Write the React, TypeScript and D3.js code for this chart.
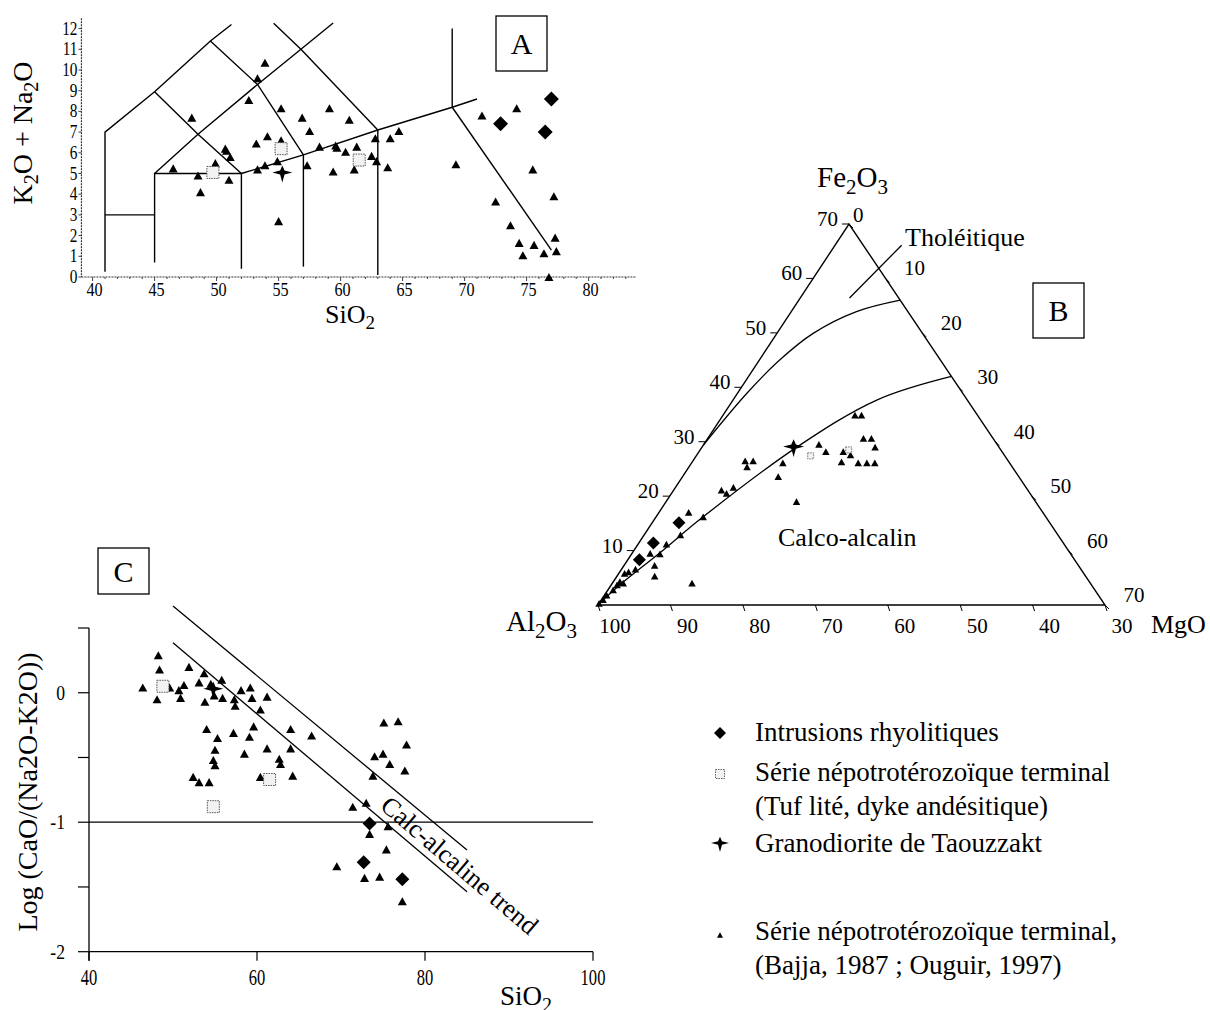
import React from "react";
import * as d3 from "d3";

const FONT = '"Liberation Serif","Times New Roman",serif';

// ---------------- Panel A (TAS) data ----------------
const aTickX = [40, 45, 50, 55, 60, 65, 70, 75, 80];
const aTickY = [0, 1, 2, 3, 4, 5, 6, 7, 8, 9, 10, 11, 12];
const aAxisX: [number, number] = [39.1, 83.8];
const aAxisY: [number, number] = [0, 12.5];
const tasBoundaries: [number, number][][] = [
  [[41, 0.25], [41, 7], [45, 8.95], [49.5, 11.4], [51.2, 12.2]],
  [[41, 3], [45, 3]],
  [[45, 0.7], [45, 5], [52, 5], [52, 0.4]],
  [[45, 5], [48.5, 6.9], [53.3, 9.3], [56.8, 11.0], [59.4, 12.27]],
  [[45, 8.95], [48.5, 6.9], [52, 5]],
  [[49.5, 11.4], [53.3, 9.3], [57, 5.9]],
  [[54.6, 12.26], [56.8, 11.0], [63, 7.1]],
  [[52, 5], [57, 5.9], [63, 7.1], [69, 8.2], [71, 8.6]],
  [[57, 5.9], [57, 0.5]],
  [[63, 7.1], [63, 0.1]],
  [[69, 8.2], [69, 12.0]],
  [[69, 8.2], [77, 1.3]],
];
const aTriangles: [number, number][] = [
  [46.5, 5.25], [48.0, 7.7], [48.5, 4.9], [48.7, 4.1], [49.9, 5.5], [50.7, 6.2], [50.8, 6.1],
  [51.1, 5.8], [51.0, 4.7], [52.6, 8.55], [53.3, 9.6], [53.9, 10.35], [53.2, 6.45], [54.1, 6.8],
  [53.3, 5.2], [53.9, 5.4], [55.2, 8.15], [55.2, 6.6], [54.9, 5.6], [55.0, 2.7], [56.9, 7.7],
  [57.5, 7.05], [57.3, 5.4], [58.3, 6.3], [59.1, 8.15], [60.7, 7.6], [59.6, 6.35], [59.7, 6.25],
  [60.4, 6.05], [61.3, 6.3], [59.4, 5.1], [61.1, 5.2], [62.5, 5.85], [62.8, 6.7], [62.9, 5.6],
  [64.0, 6.7], [64.7, 7.05], [63.8, 5.3], [69.3, 5.45], [71.4, 7.8], [74.2, 8.15], [72.5, 3.65],
  [73.7, 2.5], [74.4, 1.65], [74.7, 1.05], [75.6, 1.55], [76.4, 1.15], [77.4, 1.25], [77.3, 1.9],
  [77.2, 3.9], [75.5, 5.2], [76.8, 0.0],
];
const aDiamonds: [number, number][] = [[77.0, 8.6], [72.9, 7.4], [76.5, 7.0]];
const aSquares: [number, number][] = [[49.7, 5.05], [55.2, 6.2], [61.5, 5.65]];
const aStars: [number, number][] = [[55.3, 5.05]];

// ---------------- Panel B (ternary Fe2O3 / MgO / Al2O3) data: [Fe2O3, MgO] ----------------
const bFeTicks = [10, 20, 30, 40, 50, 60, 70];
const bAlTicks = [100, 90, 80, 70, 60, 50, 40, 30];
const bMgTicks = [0, 10, 20, 30, 40, 50, 60, 70];
const bUpperCurve: [number, number][] = [[29.4, 0], [38.9, 1.3], [45.0, 2.8], [49.9, 5.0], [53.9, 9.0], [56.0, 14.0]];
const bLowerCurve: [number, number][] = [[0, 0], [3.7, 1.2], [9.6, 3.8], [16.2, 6.5], [29.0, 13.1], [37.7, 19.9], [42.0, 28.0]];
const bTholLine: [number, number][] = [[56.4, 6.8], [66.1, 9.2]];
const bTriangles: [number, number][] = [
  [0.3, 0.0], [1.0, 0.2], [1.8, 0.3], [2.8, 0.7], [3.7, 0.8], [4.3, 0.9], [4.0, 1.5], [5.8, 0.8],
  [6.1, 1.2], [6.6, 1.9], [9.5, 2.5], [7.3, 4.2], [5.3, 5.2], [9.4, 3.9], [11.2, 3.9], [12.9, 5.0],
  [17.0, 4.1], [16.2, 6.5], [4.0, 11.0], [21.1, 6.6], [20.5, 7.6], [21.6, 8.0], [26.5, 7.2],
  [25.4, 8.0], [26.5, 8.3], [23.6, 13.2], [26.1, 12.6], [19.0, 18.0], [29.5, 15.9], [28.2, 17.5],
  [26.3, 20.6], [28.2, 19.9], [27.6, 21.2], [34.9, 18.2], [34.9, 19.1], [26.1, 23.0], [26.1, 24.2],
  [26.1, 25.3], [30.6, 21.5], [30.6, 22.6], [29.0, 23.9],
];
const bDiamonds: [number, number][] = [[8.3, 1.6], [11.4, 2.0], [15.1, 3.7]];
const bSquares: [number, number][] = [[27.4, 15.8], [28.5, 20.5]];
const bStars: [number, number][] = [[29.1, 12.6]];

// ---------------- Panel C data ----------------
const cTickX = [40, 60, 80, 100];
const cTickY = [0.5, 0, -0.5, -1, -1.5, -2];
const cLabelY = [0, -1, -2];
const cUpperTrend: [number, number][] = [[50, 0.67], [85, -1.215]];
const cLowerTrend: [number, number][] = [[50, 0.386], [85, -1.537]];
const cTriangles: [number, number][] = [
  [46.4, 0.04], [48.25, 0.29], [48.4, 0.18], [48.1, -0.05], [49.6, 0.04], [50.7, 0.02], [50.9, -0.04],
  [51.3, 0.06], [51.9, 0.2], [53.1, 0.08], [53.7, 0.15], [53.8, -0.07], [54.5, 0.07], [54.9, -0.02],
  [55.8, 0.1], [55.9, -0.04], [57.3, -0.05], [57.4, -0.1], [58.1, 0.02], [59.2, 0.04], [59.4, -0.04],
  [60.4, -0.13], [61.2, -0.03], [54.0, -0.28], [55.3, -0.35], [55.0, -0.44], [54.8, -0.52],
  [55.0, -0.56], [52.4, -0.65], [53.1, -0.69], [54.3, -0.69], [57.2, -0.31], [59.6, -0.26],
  [59.1, -0.34], [58.5, -0.47], [61.2, -0.43], [60.4, -0.65], [62.65, -0.51], [62.8, -0.55],
  [64.0, -0.28], [64.0, -0.43], [64.25, -0.64], [66.5, -0.33], [75.1, -0.23], [76.8, -0.22],
  [77.8, -0.4], [74.0, -0.49], [75.0, -0.47], [75.8, -0.55], [77.6, -0.6], [73.8, -0.64],
  [71.4, -0.88], [73.0, -0.85], [73.4, -1.09], [75.6, -1.03], [75.4, -1.21], [69.5, -1.34],
  [72.8, -1.43], [74.6, -1.42], [77.3, -1.61],
];
const cDiamonds: [number, number][] = [[73.4, -1.01], [72.7, -1.31], [77.3, -1.44]];
const cSquares: [number, number][] = [[48.8, 0.05], [54.8, -0.88], [61.5, -0.67]];
const cStars: [number, number][] = [[54.8, 0.03]];

// ---------------- Legend ----------------
const legendItems = [
  { kind: "diamond", lines: ["Intrusions rhyolitiques"] },
  { kind: "square", lines: ["Série népotrotérozoïque terminal", "(Tuf lité, dyke andésitique)"] },
  { kind: "star", lines: ["Granodiorite de Taouzzakt"] },
  { kind: "triangle", lines: ["Série népotrotérozoïque terminal,", "(Bajja, 1987 ; Ouguir, 1997)"] },
];

// ---------------- scales ----------------
const xA = d3.scaleLinear().domain([40, 80]).range([92.6, 588.6]);
const yA = d3.scaleLinear().domain([0, 12]).range([277, 28.6]);

const bY = d3.scaleLinear().domain([0, 70]).range([605, 224]);
const bXfe = d3.scaleLinear().domain([0, 70]).range([0, 251]);
const bXmg = d3.scaleLinear().domain([0, 70]).range([598, 1105]);
const tern = (fe: number, mg: number): [number, number] => [bXmg(mg) + bXfe(fe), bY(fe)];

const xC = d3.scaleLinear().domain([40, 100]).range([89, 593]);
const yC = d3.scaleLinear().domain([-2, 0.5]).range([951.7, 628]);

// ---------------- markers ----------------
function Tri({ x, y, w }: { x: number; y: number; w: number }) {
  const h = w * 0.9;
  return <path d={`M${x},${y - h / 2}L${x + w / 2},${y + h / 2}L${x - w / 2},${y + h / 2}Z`} fill="#000" />;
}
function Diamond({ x, y, r }: { x: number; y: number; r: number }) {
  return <path d={`M${x},${y - r}L${x + r},${y}L${x},${y + r}L${x - r},${y}Z`} fill="#000" />;
}
function Square({ x, y, s, sw = 1 }: { x: number; y: number; s: number; sw?: number }) {
  return (
    <rect x={x - s / 2} y={y - s / 2} width={s} height={s} fill="#f2f2f2" stroke="#555" strokeWidth={sw} strokeDasharray="1.5 1" />
  );
}
function Star({ x, y, k }: { x: number; y: number; k: number }) {
  const p = [[0, -7], [2.2, -2], [10, 0], [2.2, 2], [0, 10], [-2.2, 2], [-10, 0], [-2.2, -2]];
  const d = "M" + p.map(([a, b]) => `${x + a * k},${y + b * k}`).join("L") + "Z";
  return <path d={d} fill="#000" />;
}

const lineGen = d3.line<[number, number]>();

export default function App() {
  const tasPath = d3.line<[number, number]>().x((d) => xA(d[0])).y((d) => yA(d[1]));
  const ternPath = d3
    .line<[number, number]>()
    .x((d) => tern(d[0], d[1])[0])
    .y((d) => tern(d[0], d[1])[1])
    .curve(d3.curveCatmullRom);
  const cPath = d3.line<[number, number]>().x((d) => xC(d[0])).y((d) => yC(d[1]));

  const A0 = tern(0, 0);
  const Ap = tern(70, 0);
  const Ar = tern(0, 70);

  const minorA = d3.range(40, 84, 1);

  return (
    <svg width={1210} height={1010} style={{ position: "absolute", left: 0, top: 0, background: "#fff" }} fontFamily={FONT}>
      <rect width={1210} height={1010} fill="#fff" />
      {/* ================= Panel A ================= */}
      <g>
        <line x1={xA(aAxisX[0])} x2={xA(aAxisX[1])} y1={yA(0)} y2={yA(0)} stroke="#333" strokeWidth={1.2} strokeDasharray="2 1" />
        <line x1={xA(aAxisX[0])} x2={xA(aAxisX[0])} y1={yA(aAxisY[1])} y2={yA(0)} stroke="#333" strokeWidth={1.2} strokeDasharray="2 1" />
        {minorA.map((v) => (
          <line key={"mx" + v} x1={xA(v)} x2={xA(v)} y1={yA(0)} y2={yA(0) + (v % 5 === 0 ? 4 : 2)} stroke="#444" strokeWidth={1} />
        ))}
        {aTickX.map((v) => (
          <text key={"tx" + v} transform={`translate(${xA(v) + 2},${yA(0) + 19}) scale(0.85,1)`} textAnchor="middle" fontSize={19}>
            {v}
          </text>
        ))}
        {aTickY.map((v) => (
          <g key={"ty" + v}>
            <line x1={xA(aAxisX[0]) - 3} x2={xA(aAxisX[0])} y1={yA(v)} y2={yA(v)} stroke="#444" />
            <text transform={`translate(${xA(aAxisX[0]) - 4},${yA(v) + 6}) scale(0.85,1)`} textAnchor="end" fontSize={18}>
              {v}
            </text>
          </g>
        ))}
        {tasBoundaries.map((seg, i) => (
          <path key={"tas" + i} d={tasPath(seg) || ""} fill="none" stroke="#000" strokeWidth={1.4} />
        ))}
        {aTriangles.map(([x, y], i) => (
          <Tri key={"at" + i} x={xA(x)} y={yA(y)} w={9} />
        ))}
        {aSquares.map(([x, y], i) => (
          <Square key={"as" + i} x={xA(x)} y={yA(y)} s={12} />
        ))}
        {aDiamonds.map(([x, y], i) => (
          <Diamond key={"ad" + i} x={xA(x)} y={yA(y)} r={7.5} />
        ))}
        {aStars.map(([x, y], i) => (
          <Star key={"ast" + i} x={xA(x)} y={yA(y)} k={1} />
        ))}
        <text transform="translate(32,133) rotate(-90)" textAnchor="middle" fontSize={28}>
          K<tspan fontSize={20} dy={6}>2</tspan>
          <tspan dy={-6}>O + Na</tspan>
          <tspan fontSize={20} dy={6}>2</tspan>
          <tspan dy={-6}>O</tspan>
        </text>
        <text x={325} y={323} fontSize={26}>
          SiO<tspan fontSize={19} dy={6}>2</tspan>
        </text>
        <rect x={496} y={16} width={51} height={55} fill="none" stroke="#000" strokeWidth={1.3} />
        <text x={521.5} y={54} textAnchor="middle" fontSize={30}>
          A
        </text>
      </g>

      {/* ================= Panel B ================= */}
      <g>
        <path d={lineGen([A0, Ap, Ar, A0]) || ""} fill="none" stroke="#000" strokeWidth={1.4} />
        {bFeTicks.map((v) => {
          const [x, y] = tern(v, 0);
          return (
            <g key={"bf" + v}>
              <line x1={x - 7} x2={x} y1={y} y2={y} stroke="#000" />
              <text x={x - 11} y={y + 2} textAnchor="end" fontSize={21}>
                {v}
              </text>
            </g>
          );
        })}
        {bAlTicks.map((v) => {
          const [x, y] = tern(0, 100 - v);
          return (
            <g key={"ba" + v}>
              <line x1={x} x2={x + 2} y1={y} y2={y + 6} stroke="#000" />
              <text x={x + 17} y={y + 28} textAnchor="middle" fontSize={21}>
                {v}
              </text>
            </g>
          );
        })}
        {bMgTicks.map((v) => {
          const [x, y] = tern(70 - v, v);
          return (
            <g key={"bm" + v}>
              <line x1={x} x2={x + 4} y1={y} y2={y + 4} stroke="#000" />
              {v === 0 ? (
                <text x={x + 4} y={y - 2} fontSize={21}>
                  {v}
                </text>
              ) : (
                <text x={x + 29} y={y - 3} textAnchor="middle" fontSize={21}>
                  {v}
                </text>
              )}
            </g>
          );
        })}
        <path d={ternPath(bUpperCurve) || ""} fill="none" stroke="#000" strokeWidth={1.3} />
        <path d={ternPath(bLowerCurve) || ""} fill="none" stroke="#000" strokeWidth={1.3} />
        <path d={lineGen(bTholLine.map((d) => tern(d[0], d[1]))) || ""} fill="none" stroke="#000" strokeWidth={1.3} />
        {bTriangles.map(([f, m], i) => {
          const [x, y] = tern(f, m);
          return <Tri key={"bt" + i} x={x} y={y} w={7.5} />;
        })}
        {bSquares.map(([f, m], i) => {
          const [x, y] = tern(f, m);
          return <Square key={"bs" + i} x={x} y={y} s={6} sw={0.8} />;
        })}
        {bDiamonds.map(([f, m], i) => {
          const [x, y] = tern(f, m);
          return <Diamond key={"bd" + i} x={x} y={y} r={6.5} />;
        })}
        {bStars.map(([f, m], i) => {
          const [x, y] = tern(f, m);
          return <Star key={"bst" + i} x={x} y={y} k={1.05} />;
        })}
        <text x={817} y={187} fontSize={29}>
          Fe<tspan fontSize={21} dy={7}>2</tspan>
          <tspan dy={-7}>O</tspan>
          <tspan fontSize={21} dy={7}>3</tspan>
        </text>
        <text x={506} y={631} fontSize={29}>
          Al<tspan fontSize={21} dy={7}>2</tspan>
          <tspan dy={-7}>O</tspan>
          <tspan fontSize={21} dy={7}>3</tspan>
        </text>
        <text x={1151} y={633} fontSize={26}>
          MgO
        </text>
        <text x={905} y={246} fontSize={26}>
          Tholéitique
        </text>
        <text x={778} y={546} fontSize={26}>
          Calco-alcalin
        </text>
        <rect x={1033} y={283} width={51} height={55} fill="none" stroke="#000" strokeWidth={1.3} />
        <text x={1058.5} y={321} textAnchor="middle" fontSize={30}>
          B
        </text>
      </g>

      {/* ================= Panel C ================= */}
      <g>
        <line x1={xC(40)} x2={xC(40)} y1={yC(0.5)} y2={yC(-2.07)} stroke="#000" strokeWidth={1.3} />
        <line x1={xC(40)} x2={xC(100)} y1={yC(-2)} y2={yC(-2)} stroke="#000" strokeWidth={1.3} />
        <line x1={xC(40)} x2={xC(100)} y1={yC(-1)} y2={yC(-1)} stroke="#000" strokeWidth={1.3} />
        {cTickY.map((v) => (
          <line key={"cyt" + v} x1={xC(40) - 11} x2={xC(40)} y1={yC(v)} y2={yC(v)} stroke="#000" strokeWidth={1.2} />
        ))}
        {cLabelY.map((v) => (
          <text key={"cyl" + v} transform={`translate(${xC(40) - 24},${yC(v) + 7}) scale(0.8,1)`} textAnchor="end" fontSize={22}>
            {v}
          </text>
        ))}
        {cTickX.map((v) => (
          <g key={"cxt" + v}>
            <line x1={xC(v)} x2={xC(v)} y1={yC(-2)} y2={yC(-2) + 9} stroke="#000" strokeWidth={1.2} />
            <text transform={`translate(${xC(v)},${yC(-2) + 33}) scale(0.72,1)`} textAnchor="middle" fontSize={23}>
              {v}
            </text>
          </g>
        ))}
        <path d={cPath(cUpperTrend) || ""} fill="none" stroke="#000" strokeWidth={1.3} />
        <path d={cPath(cLowerTrend) || ""} fill="none" stroke="#000" strokeWidth={1.3} />
        {cTriangles.map(([x, y], i) => (
          <Tri key={"ct" + i} x={xC(x)} y={yC(y)} w={9} />
        ))}
        {cSquares.map(([x, y], i) => (
          <Square key={"cs" + i} x={xC(x)} y={yC(y)} s={12} />
        ))}
        {cDiamonds.map(([x, y], i) => (
          <Diamond key={"cd" + i} x={xC(x)} y={yC(y)} r={7} />
        ))}
        {cStars.map(([x, y], i) => (
          <Star key={"cst" + i} x={xC(x)} y={yC(y)} k={1} />
        ))}
        <text transform="translate(379,808) rotate(40.5)" fontSize={26}>
          Calc-alcaline trend
        </text>
        <text transform="translate(37,792) rotate(-90)" textAnchor="middle" fontSize={28}>
          Log (CaO/(Na2O-K2O))
        </text>
        <text x={500} y={1005} fontSize={27}>
          SiO<tspan fontSize={20} dy={7}>2</tspan>
        </text>
        <rect x={98} y={548} width={51} height={46} fill="none" stroke="#000" strokeWidth={1.3} />
        <text x={123.5} y={582} textAnchor="middle" fontSize={30}>
          C
        </text>
      </g>

      {/* ================= Legend ================= */}
      <g>
        {legendItems.map((it, i) => {
          const baseY = [741, 781, 852, 940][i];
          const my = [733, 774, 843, 935][i];
          return (
            <g key={"lg" + i}>
              {it.kind === "diamond" && <Diamond x={720} y={my} r={6} />}
              {it.kind === "square" && <Square x={720} y={my} s={9} sw={0.9} />}
              {it.kind === "star" && <Star x={720} y={my} k={0.9} />}
              {it.kind === "triangle" && <Tri x={720} y={my} w={6} />}
              {it.lines.map((t, j) => (
                <text key={j} x={755} y={baseY + j * 34} fontSize={27}>
                  {t}
                </text>
              ))}
            </g>
          );
        })}
      </g>
    </svg>
  );
}
